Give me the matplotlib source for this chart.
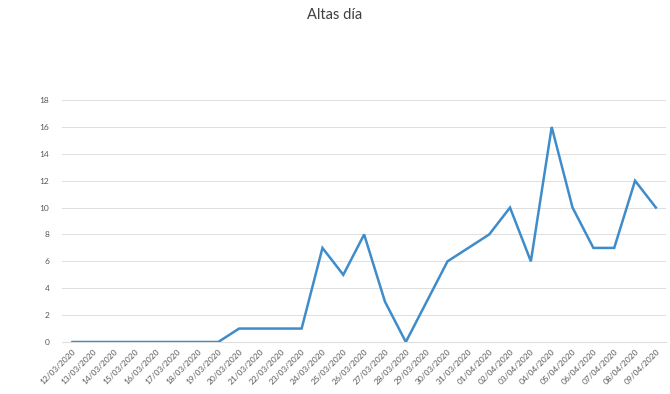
import matplotlib
matplotlib.use("Agg")
import matplotlib.pyplot as plt

plt.rcParams['font.family'] = ['Lato', 'DejaVu Sans']

# daily discharges
dates = ["12/03/2020", "13/03/2020", "14/03/2020", "15/03/2020", "16/03/2020",
         "17/03/2020", "18/03/2020", "19/03/2020", "20/03/2020", "21/03/2020",
         "22/03/2020", "23/03/2020", "24/03/2020", "25/03/2020", "26/03/2020",
         "27/03/2020", "28/03/2020", "29/03/2020", "30/03/2020", "31/03/2020",
         "01/04/2020", "02/04/2020", "03/04/2020", "04/04/2020", "05/04/2020",
         "06/04/2020", "07/04/2020", "08/04/2020", "09/04/2020"]
altas = [0, 0, 0, 0, 0, 0, 0, 0, 1, 1, 1, 1, 7, 5, 8, 3, 0, 3, 6, 7,
         8, 10, 6, 16, 10, 7, 7, 12, 10]
yticks = [0, 2, 4, 6, 8, 10, 12, 14, 16, 18]

BLUE = "#3f8ccb"
GRID = "#dedede"
TXT = "#595959"

fig = plt.figure(figsize=(6.7, 3.94), dpi=100)
ax = fig.add_axes([0.0925, 0.132, 0.902, 0.614])

x = list(range(len(dates)))
ax.plot(x, altas, color=BLUE, linewidth=1.8, solid_joinstyle="miter", zorder=3)

ax.set_xlim(-0.5, len(dates) - 0.5)
ax.set_ylim(0, 18)
ax.set_yticks(yticks)
ax.set_yticklabels([str(v) for v in yticks], fontsize=6, color=TXT)
ax.set_xticks(x)
ax.set_xticklabels(dates, rotation=45, ha="right", rotation_mode="anchor",
                   fontsize=6, color=TXT)
ax.tick_params(axis="y", length=0, pad=9)
ax.tick_params(axis="x", length=0, pad=4)

ax.grid(axis="y", color=GRID, linewidth=0.7, zorder=0)
for s in ["top", "right", "left"]:
    ax.spines[s].set_visible(False)
ax.spines["bottom"].set_color(GRID)
ax.spines["bottom"].set_linewidth(0.8)

fig.text(0.5, 0.962, "Altas día", ha="center", va="center", fontsize=10.5,
         color="#404040")

fig.savefig("out.png", dpi=100)
